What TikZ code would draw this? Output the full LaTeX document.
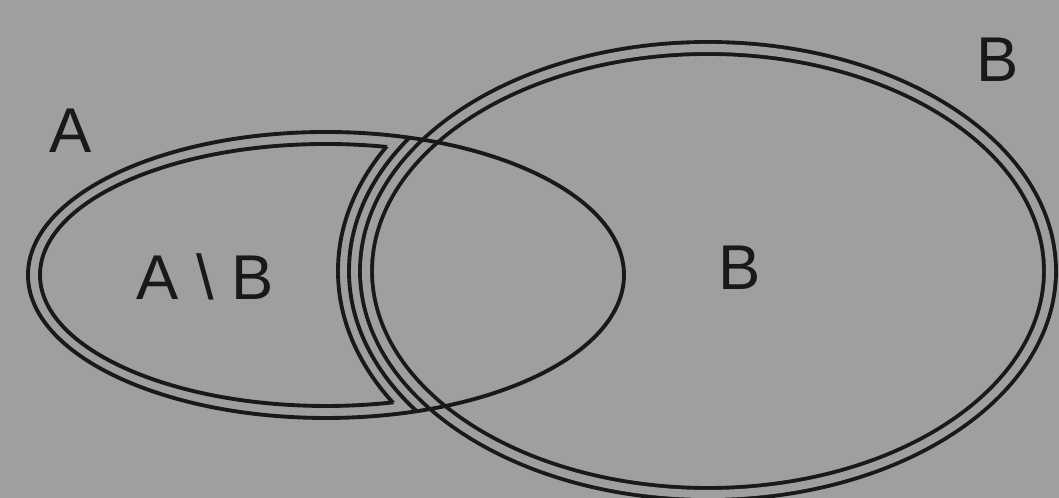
\documentclass[tikz,border=0pt]{standalone}
\usepackage{fontspec}
\setmainfont{Liberation Sans}
\usetikzlibrary{positioning}
\definecolor{paper}{RGB}{157,160,156}
\definecolor{ink}{RGB}{24,26,24}
\tikzset{
  setline/.style ={draw=ink, line width=1.1pt},
  dblline/.style ={setline, double=paper, double distance=2.3pt},
  setlabel/.style={font=\fontsize{18}{20}\selectfont, text=ink, inner sep=0pt},
}
\begin{document}
\begin{tikzpicture}[x=0.01cm, y=0.01cm]
\fill[paper] (0,0) rectangle (1059,498);
\useasboundingbox (0,0) rectangle (1059,498);
\clip (0,0) rectangle (1059,498);
% B with its double border
\draw[dblline] (708,227) ellipse [x radius=342, y radius=223];
% A, outer line
\draw[setline] (326,223) ellipse [x radius=298, y radius=143];
% A \ B, inner line of its border
\begin{scope}[even odd rule]
  \clip (-10,-10) rectangle (1070,510) (708,227) ellipse [x radius=370, y radius=251];
  \draw[setline] (326,223) ellipse [x radius=286, y radius=131];
\end{scope}
\begin{scope}
  \clip (326,223) ellipse [x radius=298, y radius=143];
  \draw[setline] (708,227) ellipse [x radius=359, y radius=240];
\end{scope}
\begin{scope}
  \clip (326,223) ellipse [x radius=286, y radius=131];
  \draw[setline] (708,227) ellipse [x radius=370, y radius=251];
\end{scope}
% labels
\node[setlabel] (labA)    at (71,367)  {A};
\node[setlabel] (labAnB)  at (205,221) {A \textbackslash{} B};
\node[setlabel] (labB)    at (740,230) {B};
\node[setlabel] (labBtop) at (998,438) {B};
\end{tikzpicture}
\end{document}
